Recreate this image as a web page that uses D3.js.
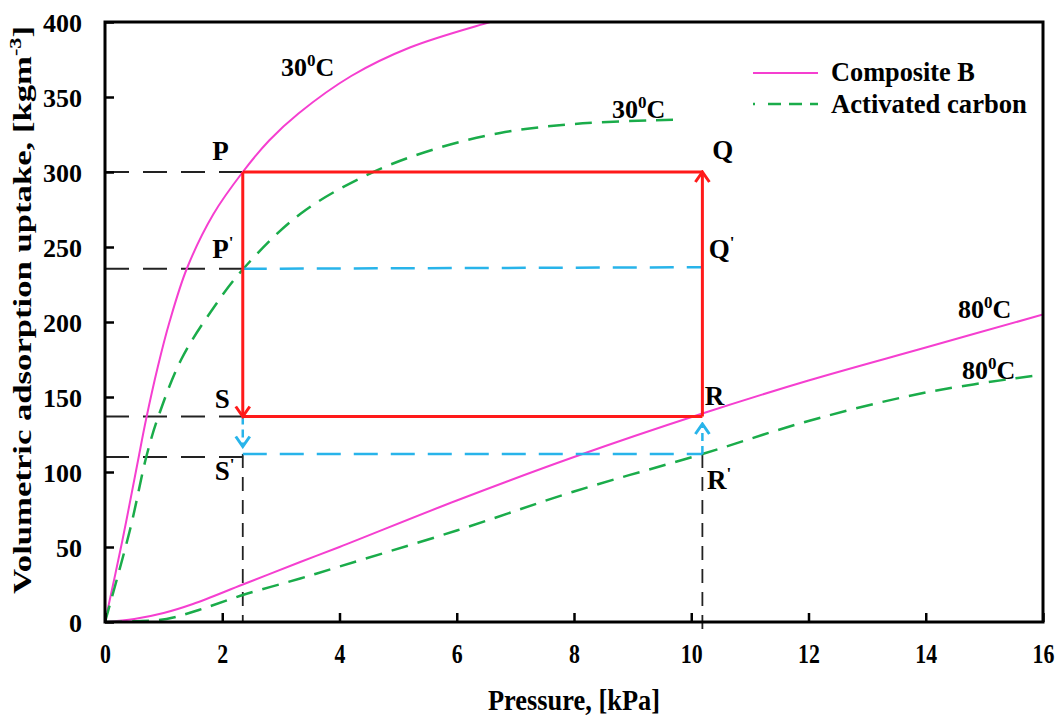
<!DOCTYPE html>
<html>
<head>
<meta charset="utf-8">
<script src="https://cdn.jsdelivr.net/npm/d3@7"></script>
<style>
  body { margin: 0; background: #fff; }
  svg { display: block; }
  text { font-family: "Liberation Serif", "Times New Roman", serif; font-weight: bold; fill: #000; }
</style>
</head>
<body>
<svg id="chart" width="1062" height="717"></svg>
<script>
// Isotherm data [pressure kPa, uptake kg/m3]
const compositeB30 = [[0,0],[0.3,55],[0.55,105],[0.7,135],[0.9,170],[1.1,200],[1.4,236],[1.85,272],[2.35,300],[2.8,321],[3.3,339],[4.2,364],[5.2,383],[6.57,400],[7.5,410]];
const carbon30 = [[0,0],[0.43,62],[0.71,111],[0.91,137],[1.3,175],[1.79,206],[2.35,235],[3.33,272],[4.52,299],[5.6,315],[6.74,326],[8,332],[9.8,335]];
const compositeB80 = [[0,0],[0.5,2],[1,6],[1.5,12],[2.35,25],[3.33,40],[4,50],[6,81],[8,110],[10.19,139],[12,161],[14,183],[16,205]];
const carbon80 = [[0,0],[0.5,0.5],[1.05,2],[1.6,8],[2.35,18],[3.33,29],[4,37],[6,61],[8,87],[10.19,112],[12,134],[14,153],[16,165]];

// Cycle state points
const pLow = 2.35, pHigh = 10.19;
const uptakeCB = { high: 300, low: 137 };
const uptakeAC = { high: 235.5, low: 112 };
const guideLevels = [300, 235.5, 137, 110];

const xTicks = [0,2,4,6,8,10,12,14,16];
const yTicks = [0,50,100,150,200,250,300,350,400];

const svg = d3.select("#chart");
const m = { left: 105, right: 1043, top: 22, bottom: 622 };
const x = d3.scaleLinear().domain([0,16]).range([m.left, m.right]);
const y = d3.scaleLinear().domain([0,400]).range([m.bottom, m.top]);

const COL_CB = "#f53fd0", COL_AC = "#1aac4a", COL_RED = "#ff1a1a", COL_BLUE = "#28b4ea", COL_GUIDE = "#222";

const defs = svg.append("defs");
defs.append("clipPath").attr("id","plotClip")
  .append("rect").attr("x", m.left).attr("y", m.top).attr("width", m.right-m.left).attr("height", m.bottom-m.top);

function chevron(id, color, w) {
  defs.append("marker").attr("id", id)
    .attr("markerUnits","userSpaceOnUse").attr("viewBox","-12 -10 14 20")
    .attr("refX", 0).attr("refY", 0).attr("markerWidth", 14).attr("markerHeight", 20)
    .attr("orient","auto")
    .append("path").attr("d","M-10,-7 L0,0 L-10,7")
    .attr("fill","none").attr("stroke", color).attr("stroke-width", w);
}
chevron("arrRed", COL_RED, 3);
chevron("arrBlue", COL_BLUE, 3);

const line = d3.line().x(d => x(d[0])).y(d => y(d[1])).curve(d3.curveCatmullRom.alpha(0.5));
const seg = (x1,y1,x2,y2) => [[x1,y1],[x2,y2]];
const lin = d3.line().x(d => x(d[0])).y(d => y(d[1]));

// Guide lines to the axes
const guides = svg.append("g").attr("stroke", COL_GUIDE).attr("stroke-width", 2.2).attr("fill","none");
guideLevels.forEach(v => {
  guides.append("path").attr("d", lin(seg(0, v, pLow, v))).attr("stroke-dasharray","24,14");
});
guides.append("path").attr("d", lin(seg(pLow, uptakeAC.low, pLow, 0))).attr("stroke-dasharray","14,9").attr("stroke-width",1.8);
guides.append("path").attr("d", lin(seg(pHigh, uptakeAC.low, pHigh, -8))).attr("stroke-dasharray","14,9").attr("stroke-width",1.8);

// Isotherm curves
const curves = svg.append("g").attr("clip-path","url(#plotClip)").attr("fill","none");
curves.append("path").attr("d", line(compositeB30)).attr("stroke", COL_CB).attr("stroke-width", 2);
curves.append("path").attr("d", line(compositeB80)).attr("stroke", COL_CB).attr("stroke-width", 2);
curves.append("path").attr("d", line(carbon30)).attr("stroke", COL_AC).attr("stroke-width", 2.5).attr("stroke-dasharray","17,10");
curves.append("path").attr("d", line(carbon80)).attr("stroke", COL_AC).attr("stroke-width", 2.5).attr("stroke-dasharray","17,10");

// Activated carbon cycle (blue dashed)
const blue = svg.append("g").attr("stroke", COL_BLUE).attr("stroke-width", 2.5).attr("fill","none");
blue.append("path").attr("d", lin(seg(pLow, uptakeAC.high, pHigh, uptakeAC.high+1))).attr("stroke-dasharray","24,13");
blue.append("path").attr("d", lin(seg(pLow, uptakeAC.low, pHigh, uptakeAC.low))).attr("stroke-dasharray","24,13");
blue.append("path").attr("d", lin(seg(pLow, uptakeCB.low, pLow, 117))).attr("stroke-dasharray","8,5").attr("marker-end","url(#arrBlue)");
blue.append("path").attr("d", lin(seg(pHigh, uptakeAC.low, pHigh, 132))).attr("stroke-dasharray","8,5").attr("marker-end","url(#arrBlue)");

// Composite B cycle (red)
const red = svg.append("g").attr("stroke", COL_RED).attr("stroke-width", 3).attr("fill","none");
red.append("path").attr("d", lin(seg(pLow, uptakeCB.high, pHigh, uptakeCB.high)));
red.append("path").attr("d", lin(seg(pLow, uptakeCB.low, pHigh, uptakeCB.low)));
red.append("path").attr("d", lin(seg(pHigh, uptakeCB.low, pHigh, uptakeCB.high))).attr("marker-end","url(#arrRed)");
red.append("path").attr("d", lin(seg(pLow, uptakeCB.high, pLow, uptakeCB.low))).attr("marker-end","url(#arrRed)");

// Frame and axes
svg.append("rect").attr("x", m.left).attr("y", m.top).attr("width", m.right-m.left).attr("height", m.bottom-m.top)
  .attr("fill","none").attr("stroke","#000").attr("stroke-width",3);

// Horizontally scale a text element (anchored at its own x) to a given width
function squeeze(textSel, width, anchorX) {
  const w = textSel.node().getComputedTextLength();
  const s = width / w;
  textSel.attr("transform", `translate(${anchorX},0) scale(${s},1) translate(${-anchorX},0)`);
}

const xAxis = d3.axisBottom(x).tickValues(xTicks).tickSizeInner(-9).tickSizeOuter(0).tickPadding(28).tickFormat(d3.format("d"));
const gx = svg.append("g").attr("transform",`translate(0,${m.bottom})`).call(xAxis);
gx.select(".domain").remove();
gx.selectAll(".tick line").attr("stroke","#000").attr("stroke-width",2.5);
gx.selectAll(".tick text").style("font-size","28px").attr("font-family",null).attr("dy","0.45em")
  .each(function() { const t = d3.select(this); squeeze(t, this.getComputedTextLength()*0.78, 0); });

const yAxis = d3.axisLeft(y).tickValues(yTicks).tickSizeInner(-9).tickSizeOuter(0).tickPadding(23).tickFormat(d3.format("d"));
const gy = svg.append("g").attr("transform",`translate(${m.left},0)`).call(yAxis);
gy.select(".domain").remove();
gy.selectAll(".tick line").attr("stroke","#000").attr("stroke-width",2.5);
gy.selectAll(".tick text").style("font-size","26px").attr("font-family",null).attr("dy","0.35em");

// Axis titles
const xt = svg.append("text").attr("x", 574).attr("y", 710).attr("text-anchor","middle")
  .style("font-size","30px").text("Pressure, [kPa]");
squeeze(xt, 172, 574);

const ytg = svg.append("g").attr("transform","translate(31,310) rotate(-90)");
const yt = ytg.append("text").attr("text-anchor","middle").style("font-size","25px");
yt.append("tspan").text("Volumetric adsorption uptake, [kgm");
yt.append("tspan").attr("dy","-10").style("font-size","16px").text("-3");
yt.append("tspan").attr("dy","10").text("]");
squeeze(yt, 568, 0);

// Temperature labels
function tempLabel(px, py, t) {
  const tx = svg.append("text").attr("x", x(px)).attr("y", y(py)).style("font-size","26px");
  tx.append("tspan").text(t);
  tx.append("tspan").attr("dy","-10").style("font-size","17px").text("0");
  tx.append("tspan").attr("dy","10").text("C");
}
tempLabel(3.0, 364, "30");
tempLabel(8.65, 336, "30");
tempLabel(14.55, 203, "80");
tempLabel(14.62, 162, "80");

// State point labels
function pointLabel(px, py, name, prime) {
  const tx = svg.append("text").attr("x", x(px)).attr("y", y(py)).style("font-size","27px");
  tx.append("tspan").text(name);
  if (prime) tx.append("tspan").attr("dy","-10").style("font-size","17px").text("'");
}
pointLabel(1.83, 308, "P", false);
pointLabel(1.83, 243, "P", true);
pointLabel(10.36, 309, "Q", false);
pointLabel(10.3, 243, "Q", true);
pointLabel(1.87, 143, "S", false);
pointLabel(1.87, 95, "S", true);
pointLabel(10.23, 145, "R", false);
pointLabel(10.27, 89, "R", true);

// Legend
const legend = svg.append("g");
legend.append("line").attr("x1",753).attr("x2",818).attr("y1",73).attr("y2",73).attr("stroke",COL_CB).attr("stroke-width",2);
legend.append("line").attr("x1",753).attr("x2",818).attr("y1",104).attr("y2",104).attr("stroke",COL_AC).attr("stroke-width",2.5).attr("stroke-dasharray","2,13,13,8,13,8,13");
const l1 = legend.append("text").attr("x",831).attr("y",81).style("font-size","27px").text("Composite B");
squeeze(l1, 144, 831);
const l2 = legend.append("text").attr("x",831).attr("y",113).style("font-size","27px").text("Activated carbon");
squeeze(l2, 196, 831);
</script>
</body>
</html>
